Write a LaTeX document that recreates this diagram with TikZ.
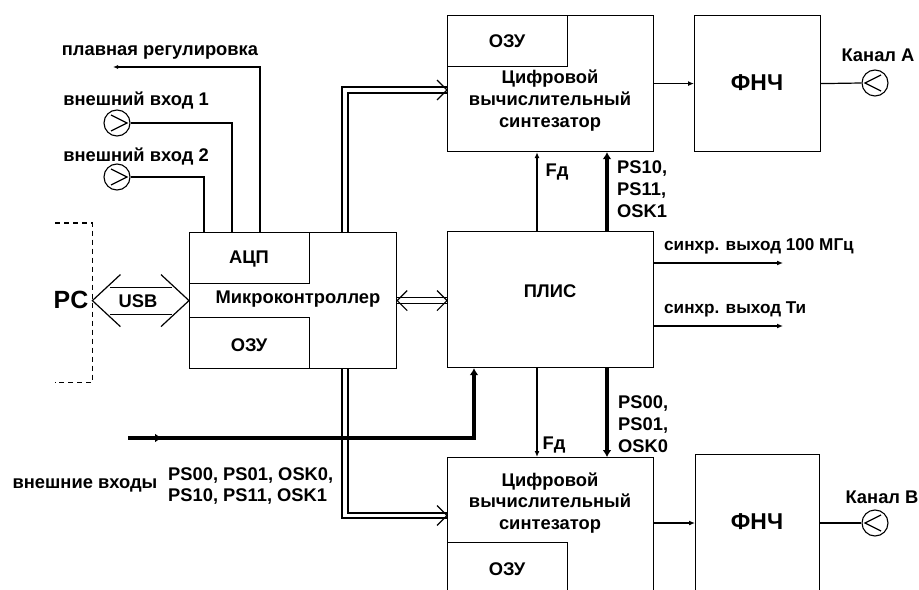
\documentclass[tikz,border=0pt]{standalone}
\usepackage{fontspec}
\setmainfont{Liberation Sans}
\usetikzlibrary{arrows.meta,calc}
\begin{document}
\begin{tikzpicture}[x=1bp,y=-1bp,
  every node/.style={font=\bfseries\fontsize{18.4}{22}\selectfont, inner sep=0pt},
  ln/.style={line width=1.2bp},
  blk/.style={draw, line width=1.2bp, anchor=north west, inner sep=0pt},
  big/.style={font=\bfseries\fontsize{23}{26}\selectfont},
  small/.style={font=\bfseries\fontsize{17.2}{21}\selectfont},
  port/.style={draw, circle, line width=1.1bp, minimum size=26bp, inner sep=0pt},
  arr/.style={ln, -{Latex[length=6bp,width=5bp]}},
  thickl/.style={line width=3.6bp, -{Latex[length=7bp,width=9bp]}},
  bus/.style={line width=1.2bp},
  lbl/.style={align=center},
  lbll/.style={align=left, anchor=west}
]
\useasboundingbox (0,0) rectangle (919,590);
\fill[white] (0,0) rectangle (919,590);
\clip (0,0) rectangle (919,590);

% --- blocks ---
\node[blk, minimum width=206bp, minimum height=136bp] (dds1) at (447,15) {};
\node[blk, minimum width=120bp, minimum height=51bp] (ram1) at (447,15) {};
\node at (507,41) {ОЗУ};
\node[lbl] (dds1t) at (550,101) {Цифровой\\вычислительный\\синтезатор};

\node[blk, minimum width=126bp, minimum height=136bp] (fnch1) at (694,15) {};
\node[big] at (757,83) {ФНЧ};

\node[blk, minimum width=206bp, minimum height=136bp] (pld) at (447,231) {};
\node at (550,291) {ПЛИС};

\node[blk, minimum width=206bp, minimum height=200bp] (dds2) at (447,457) {};
\node[blk, minimum width=120bp, minimum height=100bp] (ram2) at (447,542) {};
\node at (507,569) {ОЗУ};
\node[lbl] (dds2t) at (550,503) {Цифровой\\вычислительный\\синтезатор};

\node[blk, minimum width=124bp, minimum height=200bp] (fnch2) at (695,454) {};
\node[big] at (757,522) {ФНЧ};

\node[blk, minimum width=207bp, minimum height=136bp] (mcu) at (189,232) {};
\node[blk, minimum width=120bp, minimum height=51bp] (adc) at (189,232) {};
\node[blk, minimum width=120bp, minimum height=51bp] (ram0) at (189,317) {};
\node at (249,259) {АЦП};
\node at (249,345) {ОЗУ};
\node at (298,299) {Микроконтроллер};

% --- PC ---
\node[anchor=north west, minimum width=37bp, minimum height=159bp] (pcb) at (55,223) {};
\draw[ln, dash pattern=on 5bp off 4bp] (pcb.north west) -- (pcb.north east) -- (pcb.south east) -- (pcb.south west);
\node[font=\bfseries\fontsize{25}{27}\selectfont] at (71,300) {PC};

% USB double arrow
\coordinate (usbL) at (pcb.east |- mcu.west);
\draw[ln] ($(usbL)+(28,-26)$) -- (usbL) -- ($(usbL)+(28,26)$);
\draw[ln] ($(mcu.west)+(-28,-26)$) -- (mcu.west) -- ($(mcu.west)+(-28,26)$);
\draw[ln] ($(usbL)+(18,-13)$) -- ($(mcu.west)+(-17,-13)$);
\draw[ln] ($(usbL)+(18,14)$) -- ($(mcu.west)+(-17,14)$);
\node at (138,301) {USB};

% --- inputs ---
\node[port] (in1) at (117,123) {};
\node[port] (in2) at (117,177) {};
\draw[ln] ($(in1.center)+(-6,-8)$) -- ($(in1.center)+(10,0)$) -- ($(in1.center)+(-6,8)$);
\draw[ln] ($(in2.center)+(-6,-8)$) -- ($(in2.center)+(10,0)$) -- ($(in2.center)+(-6,8)$);
\node at (160,52) {плавная регулировка};
\node at (136,101) {внешний вход 1};
\node at (136,157) {внешний вход 2};
\coordinate (smooth) at (113,67);
\draw[ln, -{Latex[length=5bp,width=4bp]}] ($(mcu.north west)+(71,0)$) |- (smooth);
\draw[ln] (in1.east) -| ($(mcu.north west)+(43,0)$);
\draw[ln] (in2.east) -| ($(mcu.north west)+(15,0)$);

% --- buses MCU -> DDS ---
\draw[bus] ($(mcu.north west)+(153,0)$) |- ($(dds1.north west)+(0,72)$);
\draw[bus] ($(mcu.north west)+(159,0)$) |- ($(dds1.north west)+(0,78)$);
\draw[ln] ($(dds1.north west)+(-10,65)$) -- ($(dds1.north west)+(0,75)$) -- ($(dds1.north west)+(-10,85)$);

\draw[bus] ($(mcu.south west)+(153,0)$) |- ($(dds2.north west)+(0,61)$);
\draw[bus] ($(mcu.south west)+(159,0)$) |- ($(dds2.north west)+(0,56)$);
\draw[ln] ($(dds2.north west)+(-10,48.5)$) -- ($(dds2.north west)+(0,58.5)$) -- ($(dds2.north west)+(-10,68.5)$);

% MCU <-> PLD
\coordinate (pldL) at (pld.west |- mcu.east);
\draw[bus] ($(mcu.east)+(0,-3)$) -- ($(pldL)+(0,-3)$);
\draw[bus] ($(mcu.east)+(0,3)$) -- ($(pldL)+(0,3)$);
\draw[ln] ($(mcu.east)+(10,-10)$) -- (mcu.east) -- ($(mcu.east)+(10,10)$);
\draw[ln] ($(pldL)+(-10,-10)$) -- (pldL) -- ($(pldL)+(-10,10)$);

% --- PLD <-> DDS ---
\draw[arr] ($(pld.north west)+(90,0)$) -- ($(dds1.south west)+(90,0)$);
\draw[thickl] ($(pld.north west)+(160,0)$) -- ($(dds1.south west)+(160,0)$);
\draw[arr] ($(pld.south west)+(90,0)$) -- ($(dds2.north west)+(90,0)$);
\draw[thickl] ($(pld.south west)+(160,0)$) -- ($(dds2.north west)+(160,0)$);
\node at (557,172) {Fд};
\node at (554,445) {Fд};
\node[lbll] at (617,189) {PS10,\\PS11,\\OSK1};
\node[lbll] at (618,424) {PS00,\\PS01,\\OSK0};

% --- PLD outputs ---
\coordinate (s1) at (783,263);
\coordinate (s2) at (783,326);
\draw[arr] (s1 -| pld.east) -- (s1);
\draw[arr] (s2 -| pld.east) -- (s2);
\node[lbll, small] at (664,246) {синхр. выход 100 МГц};
\node[lbll, small] at (664,309) {синхр. выход Ти};

% --- external inputs thick line ---
\coordinate (ext) at (128,438);
\draw[thickl] (ext) -| ($(pld.south west)+(27,0)$);
\draw[thickl] (ext) -- ++(34,0);
\node at (85,485) {внешние входы};
\node[lbll] at (168,486) {PS00, PS01, OSK0,\\PS10, PS11, OSK1};

% --- DDS -> FNCH -> channels ---
\node[port] (chA) at (875,83) {};
\draw[ln] ($(chA.center)+(6,-8)$) -- ($(chA.center)+(-10,0)$) -- ($(chA.center)+(6,8)$);
\draw[arr] (dds1.east) -- (fnch1.west);
\draw[ln] (fnch1.east) -- (chA.west);
\node at (878,55) {Канал А};

\coordinate (o2) at ($(dds2.north east)+(0,66)$);
\node[port] (chB) at (875,523) {};
\draw[ln] ($(chB.center)+(6,-8)$) -- ($(chB.center)+(-10,0)$) -- ($(chB.center)+(6,8)$);
\draw[arr] (o2) -- (o2 -| fnch2.west);
\draw[ln] (o2 -| fnch2.east) -- (chB.west);
\node at (882,497) {Канал В};
\end{tikzpicture}
\end{document}
